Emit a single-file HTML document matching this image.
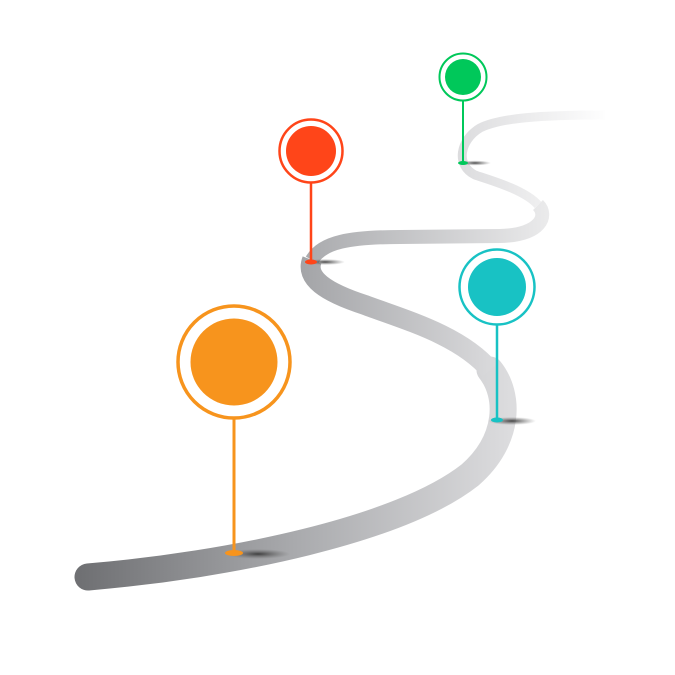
<!DOCTYPE html>
<html><head><meta charset="utf-8"><style>html,body{margin:0;padding:0;background:#fff}svg{display:block}</style></head>
<body>
<svg width="675" height="675" viewBox="0 0 675 675" xmlns="http://www.w3.org/2000/svg">
<defs>
<linearGradient id="g1" gradientUnits="userSpaceOnUse" x1="80" y1="0" x2="510" y2="0"><stop offset="0" stop-color="#6f7073"/><stop offset="0.5" stop-color="#a9aaad"/><stop offset="1" stop-color="#dcdcde"/></linearGradient>
<linearGradient id="g2" gradientUnits="userSpaceOnUse" x1="300" y1="0" x2="510" y2="0"><stop offset="0" stop-color="#a3a4a7"/><stop offset="1" stop-color="#dedee0"/></linearGradient>
<linearGradient id="g3" gradientUnits="userSpaceOnUse" x1="300" y1="0" x2="550" y2="0"><stop offset="0" stop-color="#a8a9ac"/><stop offset="1" stop-color="#ebebec"/></linearGradient>
<linearGradient id="g4" gradientUnits="userSpaceOnUse" x1="460" y1="0" x2="610" y2="0"><stop offset="0" stop-color="#dcdcde"/><stop offset="1" stop-color="#ffffff"/></linearGradient>
<radialGradient id="sh"><stop offset="0" stop-color="#333" stop-opacity="0.9"/><stop offset="1" stop-color="#666" stop-opacity="0"/></radialGradient>
</defs>
<g fill="none" stroke-linecap="round">
<path d="M88,577 C230,565 400,530 470,475 C510,440 510,395 490,370" stroke="url(#g1)" stroke-width="27"/>
<path d="M490,370 C460,335 405,320 365,305 C325,292 305,278 312,260" stroke="url(#g2)" stroke-width="20" stroke-linecap="butt"/>
<path d="M312,260 C322,242 350,237 400,237 L500,236 C542,235 548,215 538,205" stroke="url(#g3)" stroke-width="14" stroke-linecap="butt"/>
<path d="M538,205 C525,190 490,180 475,175 C455,165 460,140 480,128 C500,118 540,115 605,115" stroke="url(#g4)" stroke-width="9" stroke-linecap="butt"/>
</g>
<ellipse cx="258" cy="554" rx="32" ry="5" fill="url(#sh)"/>
<ellipse cx="325" cy="262" rx="20" ry="3" fill="url(#sh)"/>
<ellipse cx="512" cy="421" rx="24" ry="4" fill="url(#sh)"/>
<ellipse cx="475" cy="163" rx="16" ry="2.5" fill="url(#sh)"/>
<line x1="234" y1="418" x2="234" y2="553" stroke="#f7941d" stroke-width="3"/>
<ellipse cx="234" cy="553" rx="9" ry="3" fill="#f7941d"/>
<circle cx="234" cy="362" r="56" fill="#fff" stroke="#f7941d" stroke-width="3.5"/>
<circle cx="234" cy="362" r="43.5" fill="#f7941d"/>
<line x1="311" y1="182" x2="311" y2="262" stroke="#ff4519" stroke-width="2.5"/>
<ellipse cx="311" cy="262" rx="6" ry="2.5" fill="#ff4519"/>
<circle cx="311" cy="151" r="31.5" fill="#fff" stroke="#ff4519" stroke-width="2.5"/>
<circle cx="311" cy="151" r="25" fill="#ff4519"/>
<line x1="463" y1="100" x2="463" y2="163" stroke="#00c85a" stroke-width="2"/>
<ellipse cx="463" cy="163" rx="5" ry="2" fill="#00c85a"/>
<circle cx="463" cy="77" r="23.5" fill="#fff" stroke="#00c85a" stroke-width="2"/>
<circle cx="463" cy="77" r="18" fill="#00c85a"/>
<line x1="497" y1="324" x2="497" y2="420" stroke="#18c2c4" stroke-width="2.5"/>
<ellipse cx="497" cy="420" rx="6" ry="2.5" fill="#18c2c4"/>
<circle cx="497" cy="287" r="37.5" fill="#fff" stroke="#18c2c4" stroke-width="2.5"/>
<circle cx="497" cy="287" r="29" fill="#18c2c4"/>
</svg>
</body></html>
